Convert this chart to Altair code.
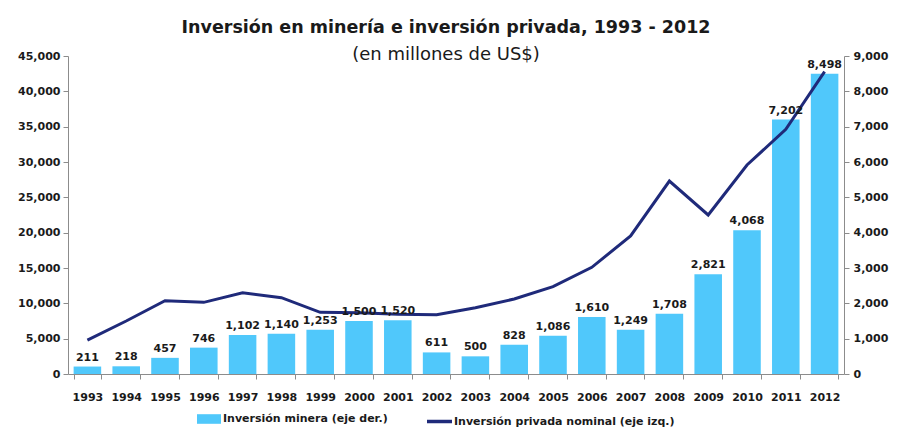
import altair as alt
import pandas as pd

years = [str(y) for y in range(1993, 2013)]
mineria = [211, 218, 457, 746, 1102, 1140, 1253, 1500, 1520, 611, 500, 828, 1086, 1610, 1249, 1708, 2821, 4068, 7202, 8498]
privada = [4800, 7500, 10370, 10140, 11500, 10800, 8730, 8680, 8450, 8390, 9380, 10610, 12360, 15100, 19530, 27300, 22500, 29575, 34630, 42780]

bar_name = "Inversión minera (eje der.)"
line_name = "Inversión privada nominal (eje izq.)"

left_ticks = list(range(0, 45001, 5000))
right_ticks = list(range(0, 9001, 1000))

df = pd.DataFrame({"year": years, "mineria": mineria, "privada": privada,
                   "bar_series": bar_name, "line_series": line_name})

FONT = "DejaVu Sans"
TXT = "#1a1a1a"
AXC = "#8c8c8c"

x_enc = alt.X("year:N", title=None, sort=years,
              scale=alt.Scale(paddingInner=0.29, paddingOuter=0.145),
              axis=alt.Axis(labelAngle=0, tickBand="extent", labelFont=FONT, labelFontSize=11,
                            labelFontWeight="bold", labelColor=TXT, domainColor=AXC, tickColor=AXC,
                            tickSize=5, labelPadding=12, grid=False))

base = alt.Chart(df)

bars = base.mark_bar(color="#50c8fb").encode(
    x=x_enc,
    y=alt.Y("mineria:Q", title=None,
            scale=alt.Scale(domain=[0, 9000], nice=False),
            axis=alt.Axis(orient="right", values=right_ticks, format=",d",
                          labelFont=FONT, labelFontSize=11, labelFontWeight="bold", labelColor=TXT,
                          domainColor=AXC, tickColor=AXC, tickSize=5, labelPadding=4, grid=False,
                          labelOverlap=False)),
    fill=alt.Fill("bar_series:N",
                  scale=alt.Scale(domain=[bar_name], range=["#50c8fb"]),
                  legend=alt.Legend(title=None, orient="none", legendX=129, legendY=351,
                                    symbolType="M-1,-0.4H1V0.4H-1Z", symbolSize=576,
                                    symbolStrokeWidth=0,
                                    labelFont=FONT, labelFontSize=11, labelFontWeight="bold",
                                    labelColor=TXT, labelOffset=2, labelLimit=400)),
)

line = base.mark_line(strokeWidth=3).encode(
    x=x_enc,
    y=alt.Y("privada:Q", title=None,
            scale=alt.Scale(domain=[0, 45000], nice=False),
            axis=alt.Axis(orient="left", values=left_ticks, format=",d",
                          labelFont=FONT, labelFontSize=11, labelFontWeight="bold", labelColor=TXT,
                          domainColor=AXC, tickColor=AXC, tickSize=5, labelPadding=3, grid=False,
                          labelOverlap=False)),
    stroke=alt.Stroke("line_series:N",
                      scale=alt.Scale(domain=[line_name], range=["#1f2a7a"]),
                      legend=alt.Legend(title=None, orient="none", legendX=357, legendY=351,
                                        symbolType="stroke", symbolSize=625, symbolStrokeWidth=3.5,
                                        labelFont=FONT, labelFontSize=11, labelFontWeight="bold",
                                        labelColor=TXT, labelOffset=0, labelLimit=400)),
)

labels = base.mark_text(baseline="bottom", dy=-4, font=FONT, fontSize=11, fontWeight="bold",
                        color=TXT).encode(
    x=x_enc,
    y=alt.Y("mineria:Q", title=None, scale=alt.Scale(domain=[0, 9000], nice=False), axis=None),
    text=alt.Text("mineria:Q", format=",d"),
)

chart = alt.layer(bars, line, labels).resolve_scale(
    y="independent"
).properties(
    width=776, height=318,
    autosize=alt.AutoSizeParams(type="none"),
    padding={"left": 60, "top": 48, "right": 45, "bottom": 53},
    title=alt.TitleParams(
        text="Inversión en minería e inversión privada, 1993 - 2012",
        subtitle="(en millones de US$)",
        anchor="middle", dx=-10, font=FONT, fontSize=17.5, fontWeight="bold", color=TXT,
        subtitleFont=FONT, subtitleFontSize=18, subtitleFontWeight="normal", subtitleColor=TXT,
        subtitlePadding=10, offset=-14,
    ),
).configure_view(stroke=None)

chart.save("out.html", embed_options={"renderer": "svg", "actions": False})
